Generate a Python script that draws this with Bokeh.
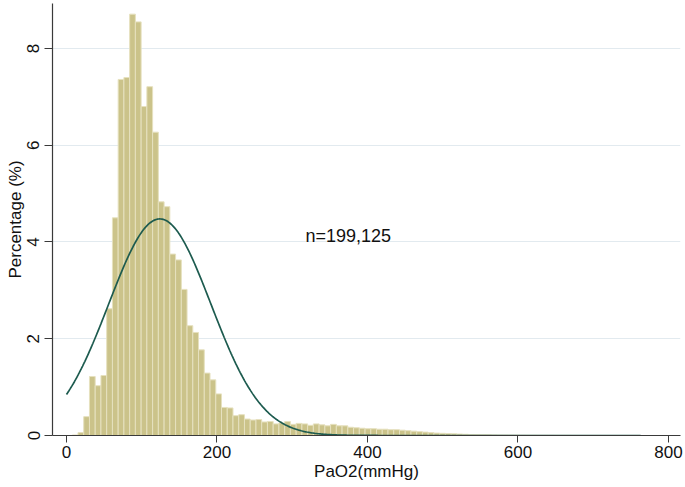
import math
import numpy as np
from bokeh.plotting import figure
from bokeh.models import Range1d, FixedTicker, Label
from bokeh.embed import file_html
from bokeh.resources import INLINE

# ---- data ----
bin_start = 0.0
bin_width = 7.63          # mmHg per bar (100 bars over 0..763)
pct = [
    0.0, 0.01, 0.06, 0.39, 1.22, 1.03, 1.24, 2.62, 4.50, 7.36,
    7.40, 8.71, 8.55, 6.80, 7.21, 6.27, 4.83, 4.73, 3.75, 3.63,
    3.02, 2.27, 2.13, 1.77, 1.29, 1.15, 0.86, 0.58, 0.57, 0.41,
    0.43, 0.34, 0.32, 0.33, 0.28, 0.29, 0.24, 0.26, 0.29, 0.23,
    0.25, 0.24, 0.21, 0.24, 0.22, 0.20, 0.23, 0.20, 0.20, 0.17,
    0.16, 0.15, 0.14, 0.14, 0.13, 0.13, 0.12, 0.12, 0.11, 0.10,
    0.09, 0.08, 0.07, 0.06, 0.05, 0.045, 0.04, 0.035, 0.03, 0.025,
    0.02, 0.018, 0.016, 0.014, 0.012, 0.010, 0.009, 0.008, 0.007, 0.006,
    0.005, 0.005, 0.004, 0.004, 0.004, 0.003, 0.003, 0.003, 0.002, 0.002,
    0.002, 0.002, 0.002, 0.001, 0.001, 0.001, 0.001, 0.001, 0.001, 0.001,
]
mean_pao2 = 124.0
sd_pao2 = 68.0
curve_min = 0.0
curve_max = 763.0
x_ticks = [0, 200, 400, 600, 800]
y_ticks = [0, 2, 4, 6, 8]
n_label = "n=199,125"
x_title = "PaO2(mmHg)"
y_title = "Percentage (%)"

# ---- derived ----
left = [bin_start + i * bin_width for i in range(len(pct))]
right = [l + bin_width for l in left]
bottom = [0.0] * len(pct)
xs = np.linspace(curve_min, curve_max, 500)
ys = 100.0 * bin_width / (sd_pao2 * math.sqrt(2 * math.pi)) * np.exp(-((xs - mean_pao2) ** 2) / (2 * sd_pao2 ** 2))

FONT = "Liberation Sans"
AXIS_COL = "#3a3a3a"

p = figure(width=685, height=487, output_backend="svg", toolbar_location=None,
           x_range=Range1d(-18.6, 816), y_range=Range1d(0, 8.93),
           min_border_left=52, min_border_right=5, min_border_top=3, min_border_bottom=52,
           background_fill_color="white", border_fill_color="white")
p.outline_line_color = None

p.xgrid.grid_line_color = None
p.ygrid.ticker = FixedTicker(ticks=y_ticks)
p.ygrid.grid_line_color = "#e2eaef"
p.ygrid.grid_line_width = 1

p.quad(left=left, right=right, bottom=bottom, top=pct,
       fill_color="#cbc38a", line_color="#e6e1bf", line_width=1)
p.line(xs, ys, line_color="#1d5b4f", line_width=1.7)

p.add_layout(Label(x=317.6, y=4.12, text=n_label, text_font=FONT, text_font_size="18px",
                   text_color="#111111", text_baseline="alphabetic"))

for ax in (p.xaxis[0], p.yaxis[0]):
    ax.axis_line_color = AXIS_COL
    ax.axis_line_width = 1.2
    ax.major_tick_line_color = AXIS_COL
    ax.major_tick_in = 0
    ax.minor_tick_line_color = None
    ax.major_label_text_font = FONT
    ax.major_label_text_font_size = "17px"
    ax.major_label_text_color = "#111111"
    ax.axis_label_text_font = FONT
    ax.axis_label_text_font_size = "17px"
    ax.axis_label_text_font_style = "normal"
    ax.axis_label_text_color = "#111111"

p.xaxis[0].ticker = FixedTicker(ticks=x_ticks)
p.yaxis[0].ticker = FixedTicker(ticks=y_ticks)
p.xaxis[0].axis_label = x_title
p.yaxis[0].axis_label = y_title
p.xaxis[0].major_tick_out = 7
p.xaxis[0].major_label_standoff = 3
p.xaxis[0].axis_label_standoff = 1
p.yaxis[0].major_tick_out = 8
p.yaxis[0].major_label_orientation = "vertical"
p.yaxis[0].major_label_standoff = 5
p.yaxis[0].axis_label_standoff = 0

open("out.html", "w").write(file_html(p, INLINE))
